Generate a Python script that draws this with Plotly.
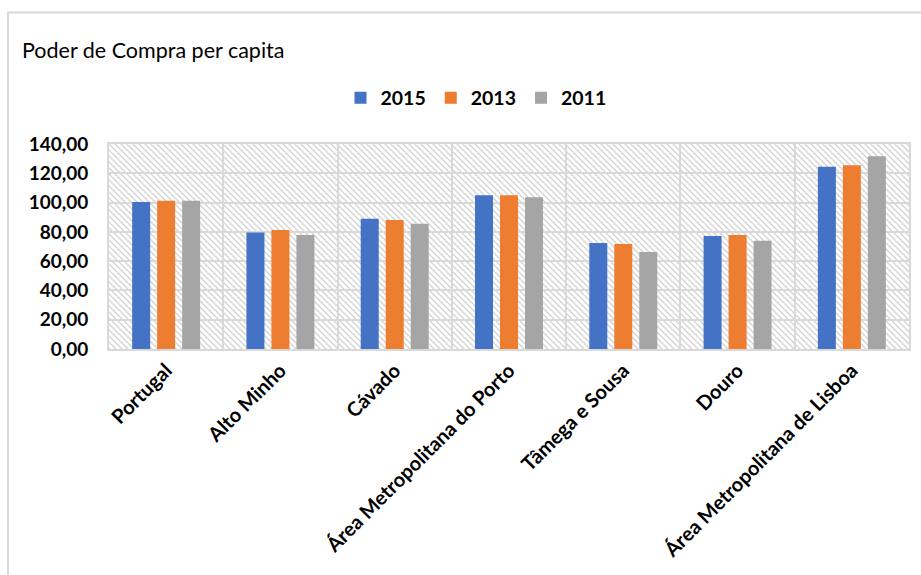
import base64
import plotly.graph_objects as go

categories = ["Portugal", "Alto Minho", "Cávado", "Área Metropolitana do Porto",
              "Tâmega e Sousa", "Douro", "Área Metropolitana de Lisboa"]
series_names = ["2015", "2013", "2011"]
values_2015 = [100.4, 79.6, 89.0, 105.0, 72.4, 77.2, 124.5]
values_2013 = [101.3, 81.3, 88.1, 105.0, 71.7, 77.9, 125.5]
values_2011 = [101.3, 77.9, 85.6, 103.6, 66.3, 74.0, 131.6]
colors = ["#4472C4", "#ED7D31", "#A5A5A5"]
y_ticks = [0, 20, 40, 60, 80, 100, 120, 140]

W, H = 921, 575
ML, MR, MT, MB = 109, 12, 144, 226
PW, PH = W - ML - MR, H - MT - MB

# hatch background for plot area
svg = (
    f'<svg xmlns="http://www.w3.org/2000/svg" width="{PW}" height="{PH}" viewBox="0 0 {PW} {PH}">'
    '<defs><pattern id="h" width="6" height="6" patternUnits="userSpaceOnUse">'
    '<path d="M0,0 L6,6 M-1,5 L1,7 M5,-1 L7,1" stroke="#d2d2d2" stroke-width="1.3"/>'
    '</pattern></defs>'
    f'<rect width="{PW}" height="{PH}" fill="white"/>'
    f'<rect width="{PW}" height="{PH}" fill="url(#h)"/></svg>'
)
svg_uri = "data:image/svg+xml;base64," + base64.b64encode(svg.encode()).decode()

fig = go.Figure()
for name, vals, col in zip(series_names, [values_2015, values_2013, values_2011], colors):
    fig.add_trace(go.Bar(x=categories, y=vals, name=name, marker_color=col,
                         marker_line_width=0))

fig.update_layout(
    width=W, height=H,
    margin=dict(l=ML, r=MR, t=MT, b=MB, autoexpand=False),
    paper_bgcolor="white",
    plot_bgcolor="rgba(0,0,0,0)",
    separators=",.",
    barmode="group",
    bargap=0.344,
    bargroupgap=0.28,
    showlegend=True,
    legend=dict(orientation="h", x=(476 - ML) / PW, xanchor="center",
                y=(H - MB - 98) / PH, yanchor="middle",
                font=dict(family="Lato", size=19.5, color="#000000", weight="bold"),
                itemwidth=30, tracegroupgap=0),
    title=dict(text="Poder de Compra per capita", x=22 / W, xanchor="left",
               y=1 - 50 / H, yanchor="middle",
               font=dict(family="Lato", size=21.5, color="#000000")),
    images=[dict(source=svg_uri, xref="paper", yref="paper", x=0, y=1,
                 sizex=1, sizey=1, sizing="stretch", layer="below",
                 xanchor="left", yanchor="top")],
    shapes=[dict(type="rect", xref="paper", yref="paper",
                 x0=(8 - ML) / PW, x1=(940 - ML) / PW,
                 y0=(H - MB - 600) / PH, y1=(H - MB - 12.5) / PH,
                 line=dict(color="#d9d9d9", width=2), fillcolor="rgba(0,0,0,0)",
                 layer="below")],
)
fig.update_xaxes(
    type="category", tickson="boundaries", showgrid=True, gridcolor="#d9d9d9",
    gridwidth=2, ticks="", tickangle=-45, automargin=False,
    tickfont=dict(family="Lato", size=20, color="#000000", weight="bold"),
    showline=True, mirror=True, linecolor="#d9d9d9", linewidth=2,
)
fig.update_yaxes(
    range=[0, 140], tickvals=y_ticks, tickformat=".2f", showgrid=True,
    gridcolor="#d9d9d9", gridwidth=2, ticks="", automargin=False,
    tickfont=dict(family="Lato", size=19, color="#000000", weight="bold"),
    showline=True, mirror=True, linecolor="#d9d9d9", linewidth=2,
    zeroline=False, ticklabelstandoff=15,
)

fig.write_html("out.html")
